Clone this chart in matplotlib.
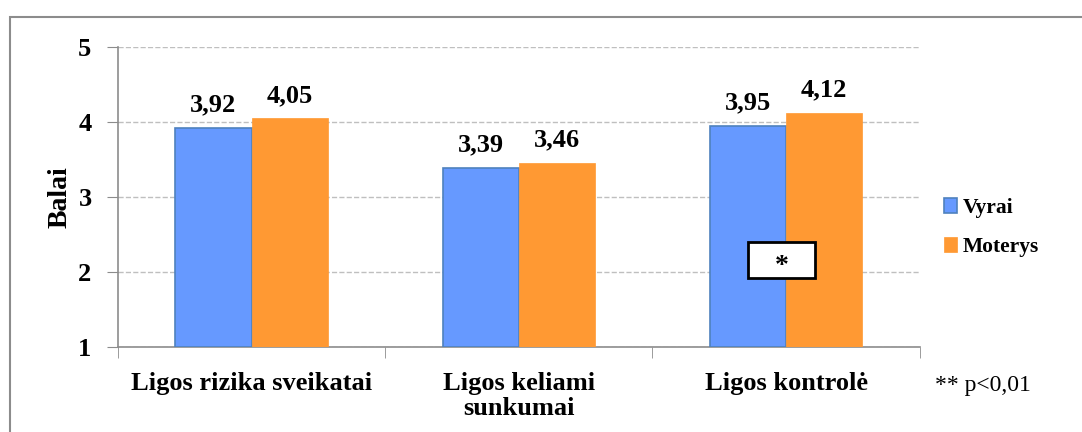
import matplotlib.pyplot as plt
from matplotlib.patches import Rectangle
import numpy as np

# Chart data
categories = ['Ligos rizika sveikatai', 'Ligos keliami\nsunkumai', 'Ligos kontrolė']
vyrai = [3.92, 3.39, 3.95]
moterys = [4.05, 3.46, 4.12]
series_names = ['Vyrai', 'Moterys']
y_ticks = [1, 2, 3, 4, 5]


def fmt(v):
    return f'{v:.2f}'.replace('.', ',')


plt.rcParams['font.family'] = ['Liberation Serif', 'DejaVu Serif']

fig = plt.figure(figsize=(10.82, 4.32), dpi=100)
ax = fig.add_axes([0.109, 0.197, 0.741, 0.694])

# Outer chart border
fig.patches.append(Rectangle((10 / 1082, -0.05), 1.1, 1 - 17 / 432 + 0.05,
                             transform=fig.transFigure, fill=False,
                             edgecolor='#8c8c8c', linewidth=1.5))

x = np.arange(len(categories))
w = 0.285
ax.bar(x - w / 2, np.array(vyrai) - 1, w, bottom=1, color='#6699FF',
       edgecolor='#4F81BD', linewidth=1.2, label=series_names[0], zorder=3)
ax.bar(x + w / 2, np.array(moterys) - 1, w, bottom=1, color='#FF9933',
       edgecolor='#FF9933', linewidth=0.5, label=series_names[1], zorder=3)

for xi, v in zip(x - w / 2, vyrai):
    ax.text(xi, v + 0.15, fmt(v), ha='center', va='bottom',
            fontsize=19, fontweight='bold')
for xi, v in zip(x + w / 2, moterys):
    ax.text(xi, v + 0.15, fmt(v), ha='center', va='bottom',
            fontsize=19, fontweight='bold')

ax.set_xlim(-0.5, 2.5)
ax.set_ylim(1, 5)
ax.set_yticks(y_ticks)
ax.set_yticklabels([str(t) for t in y_ticks], fontsize=19, fontweight='bold')
ax.set_xticks(x)
ax.set_xticklabels(categories, fontsize=19, fontweight='bold', va='top',
                   linespacing=1.1)
ax.tick_params(axis='x', length=0, pad=18)
ax.tick_params(axis='y', length=8, color='#8c8c8c', pad=11)

# category separator ticks
ax.set_xticks([-0.5, 0.5, 1.5, 2.5], minor=True)
ax.tick_params(axis='x', which='minor', length=8, color='#8c8c8c')

ax.yaxis.grid(True, linestyle='--', color='#bfbfbf', linewidth=1, zorder=0)
ax.set_axisbelow(True)
for s in ['top', 'right']:
    ax.spines[s].set_visible(False)
ax.spines['left'].set_color('#8c8c8c')
ax.spines['bottom'].set_color('#8c8c8c')
ax.spines['left'].set_linewidth(1.2)
ax.spines['bottom'].set_linewidth(1.2)

ax.set_ylabel('Balai', fontsize=20, fontweight='bold', labelpad=4)

# significance box
ax.add_patch(Rectangle((2 - 0.144, 1.92), 0.254, 0.48, facecolor='white',
                       edgecolor='black', linewidth=2, zorder=5))
ax.text(1.985, 2.07, '*', ha='center', va='center', fontsize=20,
        fontweight='bold', zorder=6)

ax.legend(loc='center left', bbox_to_anchor=(1.02, 0.398), frameon=False,
          prop={'size': 15.5, 'weight': 'bold'}, handlelength=0.6,
          handleheight=0.7, handletextpad=0.25, labelspacing=0.85,
          borderaxespad=0)

fig.text(935 / 1082, 1 - 386 / 432, '** p<0,01', fontsize=17,
         ha='left', va='center')

fig.savefig('out.png', dpi=100)
